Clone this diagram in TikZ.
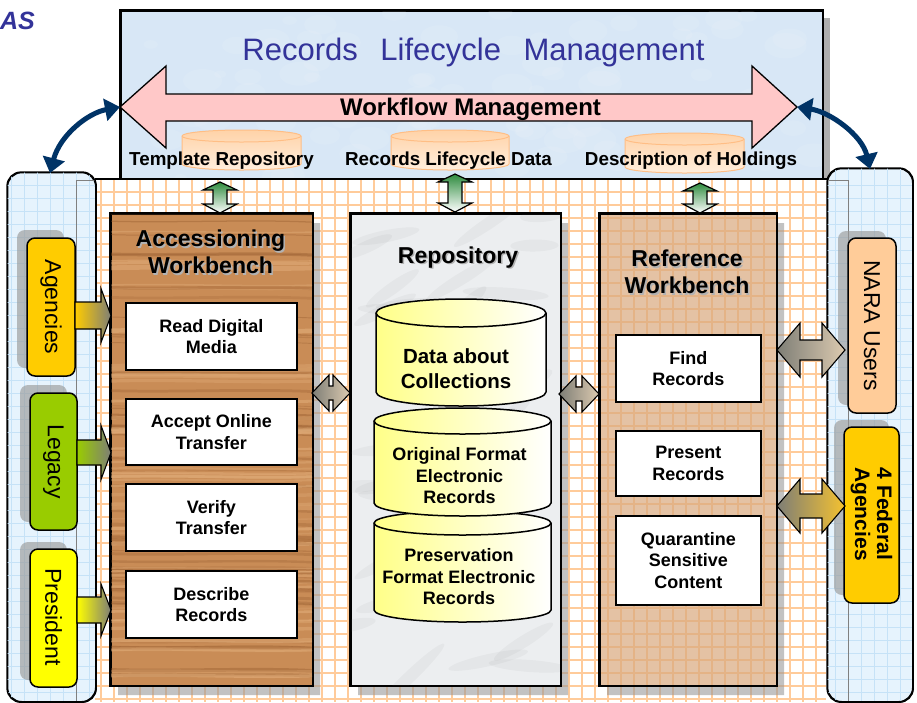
\documentclass[tikz,border=0pt]{standalone}
\usepackage{fontspec}
\setmainfont{Liberation Sans}
\usetikzlibrary{arrows.meta}
\definecolor{topblue}{HTML}{D8E7F6}
\definecolor{pinkarr}{HTML}{FFC8C8}
\definecolor{titleblue}{HTML}{333399}
\definecolor{cylor}{HTML}{FFD3A8}
\definecolor{cylorlight}{HTML}{FFEEDD}
\definecolor{cylorline}{HTML}{FFBE85}
\definecolor{wood}{HTML}{C98C56}
\definecolor{wooddark}{HTML}{8E5428}
\definecolor{woodlight}{HTML}{E8B683}
\definecolor{marble}{HTML}{ECEEF0}
\definecolor{reftan}{HTML}{D9A97E}
\definecolor{gridor}{HTML}{FFCB9A}
\definecolor{panelblue}{HTML}{E6F3FD}
\definecolor{panelgrid}{HTML}{C6E2F7}
\definecolor{gold}{HTML}{FFCC00}
\definecolor{lime}{HTML}{99CC00}
\definecolor{yel}{HTML}{FFFF00}
\definecolor{peach}{HTML}{FFCC99}
\definecolor{navy}{HTML}{003366}
\definecolor{cylyel}{HTML}{FFFF88}
\definecolor{greenarr}{HTML}{2E8B3E}
\definecolor{arrgray}{HTML}{7E7E76}
\definecolor{arrtan}{HTML}{DCCAB0}
\definecolor{arrgold}{HTML}{F5C230}
\definecolor{shadowgray}{HTML}{9A9A9A}

\newcommand{\boxfont}{\fontsize{18}{21.5}\selectfont\bfseries}
\newcommand{\wbtitle}{\fontsize{23}{27}\selectfont\bfseries}
\newcommand{\itemfont}{\fontsize{23}{26}\selectfont}

% cylinder: x1 x2 ytop-center ybottom-center ry bodystyle linestyle
\newcommand{\mycyl}[7]{%
  \pgfmathsetmacro\mcrx{(#2-#1)/2}%
  \path[#6] (#1,#3) -- (#1,#4) arc[start angle=180,end angle=0,x radius=\mcrx,y radius=#5] -- (#2,#3) arc[start angle=0,end angle=-180,x radius=\mcrx,y radius=#5] -- cycle;
  \draw[#7] (#1,#3) arc[start angle=180,end angle=0,x radius=\mcrx,y radius=#5];
}
% vertical double arrow: cx ytop ybottom
\newcommand{\greenarr}[3]{%
  \path[draw=black, line width=1.2, top color=greenarr, bottom color=white]
   (#1,#2) -- (#1+17,#2+8) -- (#1+7,#2+8) -- (#1+7,#3-9) -- (#1+17,#3-9) -- (#1,#3)
   -- (#1-17,#3-9) -- (#1-7,#3-9) -- (#1-7,#2+8) -- (#1-17,#2+8) -- cycle;
}
% horizontal double arrow: x1 x2 cy headhalf shafthalf headlen style
\newcommand{\dblarr}[7]{%
  \path[#7] (#1,#3) -- (#1+#6,#3-#4) -- (#1+#6,#3-#5) -- (#2-#6,#3-#5) -- (#2-#6,#3-#4) -- (#2,#3)
   -- (#2-#6,#3+#4) -- (#2-#6,#3+#5) -- (#1+#6,#3+#5) -- (#1+#6,#3+#4) -- cycle;
}
% single right arrow: x1 x2 cy headhalf shafthalf headlen style
\newcommand{\sglarr}[7]{%
  \path[#7] (#1,#3-#5) -- (#2-#6,#3-#5) -- (#2-#6,#3-#4) -- (#2,#3) -- (#2-#6,#3+#4) -- (#2-#6,#3+#5) -- (#1,#3+#5) -- cycle;
}
% L-shaped shadow of a box x1 y1 x2 y2
\newcommand{\shadowL}[4]{%
  \fill[shadowgray, opacity=0.6] (#3,#2+10) -- (#3+8,#2+10) -- (#3+8,#4+10) -- (#1+8,#4+10) -- (#1+8,#4) -- (#3,#4) -- cycle;
}

\tikzset{
  wbox/.style={draw, line width=1.8, fill=white, inner sep=0, align=center, font=\boxfont, anchor=north west},
  bench/.style={draw, line width=1.5, inner sep=0, anchor=north west},
  itembox/.style={draw, line width=1.5, rounded corners=8, inner sep=0},
  itemshadow/.style={fill=shadowgray, opacity=0.65, rounded corners=8},
  panel/.style={draw, line width=1.3, rounded corners=14, fill=panelblue, inner sep=0, anchor=north west},
  toplabel/.style={font=\fontsize{18.8}{21}\selectfont\bfseries, anchor=base},
  cylbody/.style={draw=black, line width=1.5, left color=cylyel, right color=white},
  cylline/.style={draw=black, line width=1.5},
  orcylbody/.style={draw=cylorline, line width=1, top color=cylor, bottom color=cylorlight},
  orcylline/.style={draw=cylorline, line width=1},
  navyarrow/.style={draw=navy, line width=5, {Triangle[length=15pt,width=22pt]}-{Triangle[length=15pt,width=22pt]}},
  cyltext/.style={font=\fontsize{18}{21.5}\selectfont\bfseries, align=center},
  thin arrow/.style={draw=black, line width=1.1}
}

\begin{document}
\begin{tikzpicture}[x=1pt,y=-1pt]
\useasboundingbox (0,0) rectangle (917,702);

% ---------- grid region ----------
\fill[white] (76,179) rectangle (848,702);
\begin{scope}
  \clip (95,179) rectangle (826,702);
  \foreach \x in {101,114,...,826} \draw[gridor, line width=1.6] (\x,179) -- (\x,702);
  \foreach \y in {192,205,...,702} \draw[gridor, line width=1.6] (95,\y) -- (826,\y);
\end{scope}

% ---------- side panels ----------
\node[panel, minimum width=88, minimum height=529] (lp) at (7,172) {};
\begin{scope}
  \clip[rounded corners=14] (7,172) rectangle (95,701);
  \foreach \x in {11,24,...,95} \draw[panelgrid, line width=0.8] (\x,172) -- (\x,701);
  \foreach \y in {185,198,...,701} \draw[panelgrid, line width=0.8] (7,\y) -- (95,\y);
\end{scope}
\draw[gray, line width=1] (95,180) -- (76,180) -- (76,701);
\draw[line width=1.3, rounded corners=14] (lp.north west) rectangle (lp.south east);

\fill[shadowgray!80] (822,18) rectangle (830,178);
\node[panel, minimum width=85, minimum height=533] (rp) at (827,168) {};
\begin{scope}
  \clip[rounded corners=14] (827,168) rectangle (912,701);
  \foreach \x in {835,848,...,912} \draw[panelgrid, line width=0.8] (\x,168) -- (\x,701);
  \foreach \y in {185,198,...,701} \draw[panelgrid, line width=0.8] (827,\y) -- (912,\y);
\end{scope}
\draw[gray, line width=1] (827,180) -- (848,180) -- (848,701);
\draw[line width=1.3, rounded corners=14] (rp.north west) rectangle (rp.south east);

% ---------- top box ----------
\node[bench, fill=topblue, minimum width=702, minimum height=168] (rlm) at (120,10) {};
\begin{scope}
  \clip (120,10) rectangle (822,178);
  \pgfmathsetseed{5}
  \foreach \i in {1,...,90}{
    \pgfmathsetmacro\bx{120+702*rnd}
    \pgfmathsetmacro\by{10+168*rnd}
    \pgfmathsetmacro\br{6+16*rnd}
    \fill[white, opacity=0.09] (\bx,\by) ellipse [x radius=\br, y radius=0.6*\br];
  }
\end{scope}
\draw[line width=1.5] (rlm.north west) rectangle (rlm.south east);
\draw[line width=1.3] (95,179) -- (827,179);

\node[anchor=base, text=titleblue, font=\fontsize{31}{36}\selectfont] (title) at (473.5,60)
  {Records\hspace{0.45em} Lifecycle\hspace{0.45em} Management};

\coordinate (wfL) at (120,107);
\coordinate (wfR) at (797,107);
\draw[line width=1.3, fill=pinkarr] (wfL) -- (166,66) -- (166,94) -- (752,94) -- (752,66) -- (wfR)
  -- (752,148) -- (752,121) -- (166,121) -- (166,148) -- cycle;
\node[anchor=base, font=\fontsize{24}{27}\selectfont\bfseries] (wf) at (470.5,115) {Workflow Management};

\mycyl{182}{301}{136}{164}{6}{orcylbody}{orcylline}
\mycyl{391}{509}{136}{164}{6}{orcylbody}{orcylline}
\mycyl{625}{744}{139}{167}{6}{orcylbody}{orcylline}
\node[toplabel] (tr) at (221.5,165) {Template Repository};
\node[toplabel] (rld) at (448.5,165) {Records Lifecycle Data};
\node[toplabel] (doh) at (691,165) {Description of Holdings};

% ---------- green vertical arrows ----------
\greenarr{220}{182}{213}
\greenarr{455}{174}{212}
\greenarr{700}{183}{213}

% ---------- Accessioning Workbench ----------
\shadowL{110}{213}{312}{685}
\node[bench, fill=wood, minimum width=202, minimum height=472] (acc) at (110,213) {};
\begin{scope}
  \clip (110,213) rectangle (312,685);
  \pgfmathsetseed{3}
  \foreach \i in {1,...,50}{
    \pgfmathsetmacro\wy{213+472*rnd}
    \pgfmathsetmacro\ww{0.8+3*rnd}
    \pgfmathsetmacro\wo{0.12+0.25*rnd}
    \draw[wooddark, line width=\ww, opacity=\wo] (110,\wy) .. controls (170,\wy+2) and (250,\wy-2) .. (312,\wy+1);
  }
  \foreach \i in {1,...,50}{
    \pgfmathsetmacro\wy{213+472*rnd}
    \pgfmathsetmacro\ww{1+4*rnd}
    \pgfmathsetmacro\wo{0.2+0.3*rnd}
    \draw[woodlight, line width=\ww, opacity=\wo] (110,\wy) .. controls (170,\wy-2) and (250,\wy+2) .. (312,\wy);
  }
\end{scope}
\draw[line width=1.5] (acc.north west) rectangle (acc.south east);
\node[font=\wbtitle, align=center, text=gray!60] (acctS) at (212,253.5) {Accessioning\\Workbench};
\node[font=\wbtitle, align=center] (acct) at (210.5,252) {Accessioning\\Workbench};

\node[wbox, minimum width=171, minimum height=67] (read) at (125,302) {Read Digital\\Media};
\node[wbox, minimum width=171, minimum height=66] (accept) at (125,398) {Accept Online\\Transfer};
\node[wbox, minimum width=171, minimum height=67] (verify) at (125,483) {Verify\\Transfer};
\node[wbox, minimum width=171, minimum height=67] (describe) at (125,570) {Describe\\Records};

% ---------- Repository ----------
\shadowL{350}{213}{560}{685}
\node[bench, fill=marble, minimum width=210, minimum height=472] (repo) at (350,213) {};
\begin{scope}
  \clip (350,213) rectangle (560,685);
  \pgfmathsetseed{11}
  \foreach \i in {1,...,45}{
    \pgfmathsetmacro\mx{350+210*rnd}
    \pgfmathsetmacro\my{213+472*rnd}
    \pgfmathsetmacro\ma{-5+50*rnd}
    \pgfmathsetmacro\mr{20+30*rnd}
    \fill[gray, opacity=0.07, rotate around={\ma:(\mx,\my)}] (\mx,\my) ellipse [x radius=\mr, y radius=6];
  }
\end{scope}
\draw[line width=1.5] (repo.north west) rectangle (repo.south east);
\node[font=\wbtitle, anchor=base, text=gray!60] (repotS) at (459.5,264.5) {Repository};
\node[font=\wbtitle, anchor=base] (repot) at (458,263) {Repository};

\mycyl{374}{551}{523}{610}{12}{cylbody}{cylline}
\mycyl{374}{551}{421}{503}{13}{cylbody}{cylline}
\mycyl{376}{546}{313}{392}{14}{cylbody}{cylline}
\node[cyltext, font=\fontsize{20.5}{25}\selectfont\bfseries] (dac) at (456,369) {Data about\\Collections};
\node[cyltext] (ofe) at (459.5,476) {Original Format\\Electronic\\Records};
\node[cyltext] (pfe) at (459,577) {Preservation\\Format Electronic\\Records};

% ---------- Reference Workbench ----------
\shadowL{599}{213}{776}{685}
\node[bench, fill=reftan, fill opacity=0.7, minimum width=177, minimum height=472] (ref) at (599,213) {};
\draw[line width=1.5] (ref.north west) rectangle (ref.south east);
\node[font=\wbtitle, align=center, text=gray!60] (reftS) at (688.5,273.5) {Reference\\Workbench};
\node[font=\wbtitle, align=center] (reft) at (687,272) {Reference\\Workbench};

\node[wbox, minimum width=145, minimum height=67] (find) at (615,334) {Find\\Records};
\node[wbox, minimum width=145, minimum height=65] (present) at (615,430) {Present\\Records};
\node[wbox, minimum width=145, minimum height=89] (quar) at (615,515) {Quarantine\\Sensitive\\Content};

% ---------- arrows between benches ----------
\dblarr{312}{350}{393}{18}{7}{17}{thin arrow, left color=arrgray, right color=arrtan}
\dblarr{559}{599}{394}{18}{7}{17}{thin arrow, left color=arrgray, right color=arrtan}

% ---------- left items ----------
\fill[itemshadow] (17,230) rectangle (64,368);
\node[itembox, fill=gold, minimum width=48, minimum height=138] (ag) at (51,307) {};
\node[rotate=-90, font=\itemfont] (agt) at (ag.center) {Agencies};

\fill[itemshadow] (20,385) rectangle (67,522);
\node[itembox, fill=lime, minimum width=47, minimum height=137] (leg) at (53.5,461.5) {};
\node[rotate=-90, font=\itemfont] (legt) at (leg.center) {Legacy};

\fill[itemshadow] (20,542) rectangle (67,680);
\node[itembox, fill=yel, minimum width=47, minimum height=138] (pres) at (53.5,618) {};
\node[rotate=-90, font=\itemfont] (prest) at (53.5,617) {President};

\sglarr{75}{111}{315.5}{27}{13.5}{10}{thin arrow, left color=gold, right color=arrgray}
\sglarr{77}{111}{452.5}{27}{12.5}{10}{thin arrow, left color=lime, right color=arrgray}
\sglarr{77}{111}{610}{26}{13}{10}{thin arrow, left color=yel, right color=arrgray}

% ---------- right items ----------
\fill[itemshadow] (838,231) rectangle (886,405);
\node[itembox, fill=peach, minimum width=48, minimum height=175] (nara) at (872,325.5) {};
\node[rotate=-90, font=\itemfont] (narat) at (nara.center) {NARA Users};

\fill[itemshadow] (834,420) rectangle (889,595);
\node[itembox, fill=gold, minimum width=55, minimum height=176] (fed) at (871.5,515) {};
\node[rotate=-90, font=\fontsize{21}{22}\selectfont\bfseries, align=center] (fedt) at (871.5,514) {4 Federal\\Agencies};

\dblarr{777}{845}{350}{27}{10}{23}{thin arrow, left color=arrgray, right color=arrtan}
\dblarr{777}{845}{506}{27}{12}{23}{thin arrow, left color=arrgray, right color=arrgold}

% ---------- curved navy arrows ----------
\coordinate (lpN) at (50,173);
\coordinate (rpN) at (870,169);
\draw[navyarrow] (wfL) .. controls (88,113) and (60,135) .. (lpN);
\draw[navyarrow] (wfR) .. controls (830,112) and (862,135) .. (rpN);

% ---------- corner text ----------
\node[anchor=base east, text=titleblue, font=\fontsize{25}{28}\selectfont\bfseries\itshape, inner sep=0] (as) at (35,29) {AS};
\end{tikzpicture}
\end{document}
